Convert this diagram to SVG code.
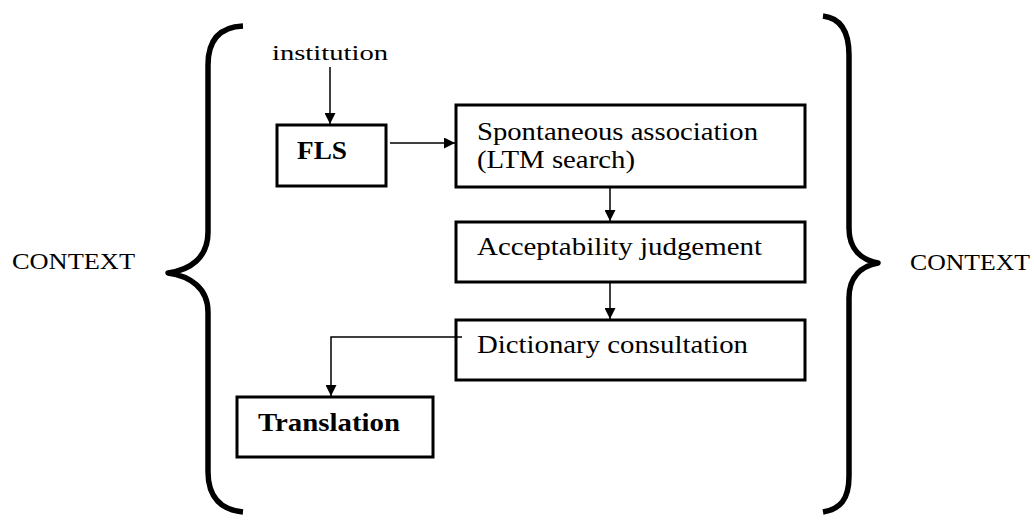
<svg xmlns="http://www.w3.org/2000/svg" width="1034" height="520" viewBox="0 0 1034 520">
<defs>
<marker id="ah" viewBox="0 0 10 10" refX="10" refY="5" markerWidth="11" markerHeight="11" markerUnits="userSpaceOnUse" orient="auto">
<path d="M0,0 L10,5 L0,10 Z" fill="#000"/>
</marker>
<style>
.box{fill:#fff;stroke:#000;stroke-width:3}
.t{font-family:"Liberation Serif","Times New Roman",serif;font-size:25px;fill:#000}
.b{font-family:"Liberation Serif","Times New Roman",serif;font-size:26px;font-weight:bold;fill:#000}
.c{fill:none;stroke:#000;stroke-width:1.5}
.brace{fill:none;stroke:#000;stroke-width:5.5;stroke-linecap:butt;stroke-linejoin:round}
</style>
</defs>
<rect width="1034" height="520" fill="#fff"/>
<g id="braces">
<path class="brace" d="M243,26 C220,27 208,40 208,65 L208,232 C208,258 190,270 168,273 C190,276 208,288 208,312 L208,472 C208,498 222,510 243,512"/>
<path class="brace" d="M823,16 C840,18 849,30 849,55 L849,228 C849,250 862,260 878,263 C862,266 849,276 849,298 L849,476 C849,500 840,509 823,512"/>
</g>
<g id="context-left"><text class="t" style="font-size:23px" x="12" y="269" textLength="123" lengthAdjust="spacingAndGlyphs">CONTEXT</text></g>
<g id="context-right"><text class="t" style="font-size:23px" x="910" y="270" textLength="120" lengthAdjust="spacingAndGlyphs">CONTEXT</text></g>
<g id="institution"><text class="t" style="font-size:20px" x="272" y="60" textLength="116" lengthAdjust="spacingAndGlyphs">institution</text></g>
<g id="fls">
<rect class="box" x="277" y="125" width="109" height="61"/>
<text class="b" x="297" y="159" textLength="50" lengthAdjust="spacingAndGlyphs">FLS</text>
</g>
<g id="spontaneous">
<rect class="box" x="456" y="105" width="349" height="82"/>
<text class="t" x="477" y="140" textLength="281" lengthAdjust="spacingAndGlyphs">Spontaneous association</text>
<text class="t" x="477" y="168" textLength="158" lengthAdjust="spacingAndGlyphs">(LTM search)</text>
</g>
<g id="acceptability">
<rect class="box" x="456" y="222" width="349" height="60"/>
<text class="t" x="477" y="255" textLength="285" lengthAdjust="spacingAndGlyphs">Acceptability judgement</text>
</g>
<g id="dictionary">
<rect class="box" x="456" y="320" width="349" height="60"/>
<text class="t" x="477" y="353" textLength="271" lengthAdjust="spacingAndGlyphs">Dictionary consultation</text>
</g>
<g id="translation">
<rect class="box" x="237" y="397" width="196" height="60"/>
<text class="b" x="258" y="431" textLength="142" lengthAdjust="spacingAndGlyphs">Translation</text>
</g>
<g id="connectors">
<path class="c" d="M330,67 L330,124" marker-end="url(#ah)"/>
<path class="c" d="M390,143 L455,143" marker-end="url(#ah)"/>
<path class="c" d="M610,187 L610,221" marker-end="url(#ah)"/>
<path class="c" d="M610,282 L610,319" marker-end="url(#ah)"/>
<path class="c" d="M462,337 L331,337 L331,396" marker-end="url(#ah)"/>
</g>
</svg>
